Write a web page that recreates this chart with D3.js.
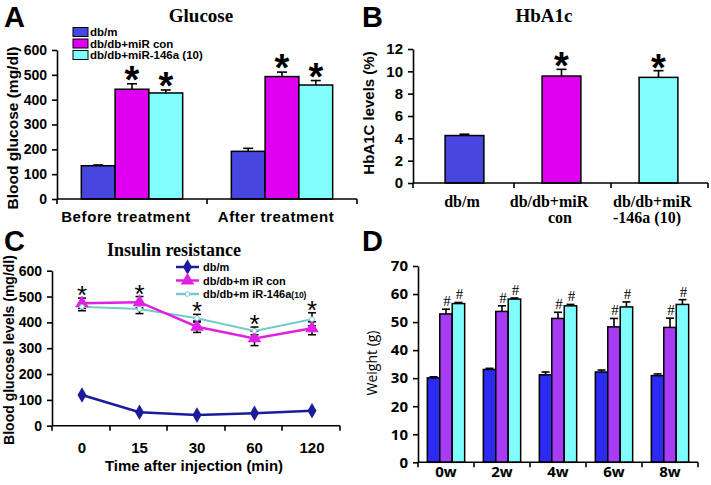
<!DOCTYPE html>
<html><head><meta charset="utf-8">
<script src="https://cdnjs.cloudflare.com/ajax/libs/d3/7.8.5/d3.min.js"></script>
<style>body{margin:0;background:#fff}svg{display:block}</style>
</head><body>
<svg id="c" width="711" height="485"></svg>
<script>
// ---------- DATA ----------
// Panel A: Glucose
const aCategories = ["Before treatment", "After treatment"];
const aSeries = ["db/m", "db/db+miR con", "db/db+miR-146a (10)"];
const aValues = [[134, 442, 427], [192, 493, 459]];
const aErrors = [[3, 22, 12], [12, 18, 18]];
const aStars = [[false, true, true], [false, true, true]];
const aTicks = [0, 100, 200, 300, 400, 500, 600];

// Panel B: HbA1c
const bCategories = [["db/m"], ["db/db+miR", "con"], ["db/db+miR", "-146a (10)"]];
const bValues = [4.25, 9.58, 9.46];
const bErrors = [0.12, 0.6, 0.6];
const bStars = [false, true, true];
const bTicks = [0, 2, 4, 6, 8, 10, 12];

// Panel C: Insulin resistance
const cTimes = ["0", "15", "30", "60", "120"];
const cSeries = ["db/m", "db/db+m iR con", "db/db+m iR-146a"];
const cDbm = [119, 52, 41, 48, 58];
const cCon = [474, 478, 383, 338, 377];
const cMiR = [460, 452, 416, 367, 412];
const cConErr = [20, 22, 22, 28, 25];
const cMiRErr = [15, 18, 15, 15, 25];
const cTicks = [0, 100, 200, 300, 400, 500, 600];

// Panel D: Weight
const dCategories = ["0w", "2w", "4w", "6w", "8w"];
const dDbm = [30.1, 33.1, 31.2, 32.2, 30.9];
const dCon = [52.9, 53.8, 51.3, 48.3, 48.1];
const dMiR = [56.6, 58.2, 55.8, 55.4, 56.3];
const dDbmErr = [0.4, 0.4, 1.0, 0.7, 0.6];
const dConErr = [1.7, 2.0, 2.2, 3.0, 3.3];
const dMiRErr = [0.4, 0.4, 0.5, 1.8, 1.7];
const dTicks = [0, 10, 20, 30, 40, 50, 60, 70];

// ---------- DRAW ----------
const svg = d3.select("#c");
const ARIAL = "Arial, 'Liberation Sans', sans-serif";
const SERIF = "'Times New Roman', 'Liberation Serif', serif";

function panelLetter(t, x, y) {
  svg.append("text").attr("x", x).attr("y", y).text(t)
    .attr("font-family", ARIAL).attr("font-weight", "bold").attr("font-size", 29);
}
function yAxisDraw(g, y, x0, ticks, font, size, weight) {
  const ax = g.append("g").attr("transform", `translate(${x0},0)`)
    .call(d3.axisLeft(y).tickValues(ticks).tickSize(5).tickPadding(5).tickSizeOuter(0));
  ax.select(".domain").attr("stroke", "#000").attr("stroke-width", 1.6);
  ax.selectAll(".tick line").attr("stroke", "#000").attr("stroke-width", 1.6);
  ax.selectAll("text").attr("font-family", font).attr("font-size", size)
    .attr("font-weight", weight).attr("fill", "#000");
  return ax;
}
function hLine(g, x1, x2, y) {
  g.append("line").attr("x1", x1).attr("x2", x2).attr("y1", y).attr("y2", y)
    .attr("stroke", "#000").attr("stroke-width", 1.6);
}
function vTick(g, x, y) {
  g.append("line").attr("x1", x).attr("x2", x).attr("y1", y).attr("y2", y + 5)
    .attr("stroke", "#000").attr("stroke-width", 1.6);
}
function errUp(g, cx, yTop, yCap, hw) {
  g.append("line").attr("x1", cx).attr("x2", cx).attr("y1", yTop).attr("y2", yCap)
    .attr("stroke", "#000").attr("stroke-width", 1.6);
  g.append("line").attr("x1", cx - hw).attr("x2", cx + hw).attr("y1", yCap).attr("y2", yCap)
    .attr("stroke", "#000").attr("stroke-width", 1.6);
}

// ===== Panel A =====
(function () {
  const g = svg.append("g");
  const colors = ["#4747df", "#de00ef", "#80fdfd"];
  const x = d3.scaleBand().domain(aCategories).range([57, 357]).paddingInner(0).paddingOuter(0);
  const xs = d3.scaleBand().domain(d3.range(3)).range([0, x.bandwidth()]).paddingOuter(0.72).paddingInner(0);
  const y = d3.scaleLinear().domain([0, 600]).range([199, 50]);
  aCategories.forEach((c, i) => {
    aValues[i].forEach((v, j) => {
      const bx = x(c) + xs(j);
      const cx = bx + xs.bandwidth() / 2;
      errUp(g, cx, y(v), y(v + aErrors[i][j]), 5);
      g.append("rect").attr("x", bx).attr("y", y(v)).attr("width", xs.bandwidth())
        .attr("height", y(0) - y(v)).attr("fill", colors[j]).attr("stroke", "#000").attr("stroke-width", 1.5);
      if (aStars[i][j]) {
        g.append("text").attr("x", cx).attr("y", y(v + aErrors[i][j]) + 9).text("*")
          .attr("text-anchor", "middle").attr("font-family", ARIAL).attr("font-weight", "bold").attr("font-size", 38);
      }
    });
  });
  yAxisDraw(g, y, 57, aTicks, ARIAL, 14, "bold");
  hLine(g, 57, 357, 199);
  [57, 207, 357].forEach(xx => vTick(g, xx, 199));
  aCategories.forEach(c => {
    g.append("text").attr("x", x(c) + x.bandwidth() / 2 - 6).attr("y", 222).text(c)
      .attr("text-anchor", "middle").attr("font-family", ARIAL).attr("font-weight", "bold")
      .attr("font-size", 15).attr("letter-spacing", 0.6);
  });
  g.append("text").attr("transform", "translate(18,128) rotate(-90)").text("Blood glucose (mg/dl)")
    .attr("text-anchor", "middle").attr("font-family", ARIAL).attr("font-weight", "bold").attr("font-size", 15.5);
  g.append("text").attr("x", 201).attr("y", 22).text("Glucose")
    .attr("text-anchor", "middle").attr("font-family", SERIF).attr("font-weight", "bold").attr("font-size", 19);
  aSeries.forEach((s, j) => {
    const yy = 32 + j * 11.5;
    g.append("rect").attr("x", 73).attr("y", yy - 4.5).attr("width", 15).attr("height", 9)
      .attr("fill", colors[j]).attr("stroke", "#000").attr("stroke-width", 1);
    g.append("text").attr("x", 90).attr("y", yy + 4.2).text(s)
      .attr("font-family", ARIAL).attr("font-weight", "bold").attr("font-size", 11.5);
  });
  panelLetter("A", 4, 27);
})();

// ===== Panel B =====
(function () {
  const g = svg.append("g");
  const colors = ["#4747df", "#de00ef", "#80fdfd"];
  const x = d3.scaleBand().domain(d3.range(3)).range([416, 707]).paddingInner(0.6).paddingOuter(0.3);
  const y = d3.scaleLinear().domain([0, 12]).range([183, 49]);
  bValues.forEach((v, i) => {
    const cx = x(i) + x.bandwidth() / 2;
    errUp(g, cx, y(v), y(v + bErrors[i]), 5);
    g.append("rect").attr("x", x(i)).attr("y", y(v)).attr("width", x.bandwidth())
      .attr("height", y(0) - y(v)).attr("fill", colors[i]).attr("stroke", "#000").attr("stroke-width", 1.5);
    if (bStars[i]) {
      g.append("text").attr("x", cx).attr("y", y(v + bErrors[i]) + 10).text("*")
        .attr("text-anchor", "middle").attr("font-family", ARIAL).attr("font-weight", "bold").attr("font-size", 38);
    }
  });
  yAxisDraw(g, y, 413, bTicks, ARIAL, 15, "bold");
  hLine(g, 413, 708, 183);
  [413, 514, 611, 708].forEach(xx => vTick(g, xx, 183));
  const labelPos = [[462, "middle"], [549, "middle"], [613, "start"]];
  bCategories.forEach((lines, i) => {
    lines.forEach((ln, k) => {
      let xx = labelPos[i][0];
      if (i === 1 && k === 1) xx = 560;
      g.append("text").attr("x", xx).attr("y", 207 + k * 16).text(ln)
        .attr("text-anchor", labelPos[i][1]).attr("font-family", SERIF)
        .attr("font-weight", "bold").attr("font-size", 16);
    });
  });
  g.append("text").attr("transform", "translate(374,113) rotate(-90)").text("HbA1C levels (%)")
    .attr("text-anchor", "middle").attr("font-family", ARIAL).attr("font-weight", "bold").attr("font-size", 15);
  g.append("text").attr("x", 544).attr("y", 22).text("HbA1c")
    .attr("text-anchor", "middle").attr("font-family", SERIF).attr("font-weight", "bold").attr("font-size", 19);
  panelLetter("B", 362, 27);
})();

// ===== Panel C =====
(function () {
  const g = svg.append("g");
  const x = d3.scalePoint().domain(cTimes).range([82, 312]);
  const y = d3.scaleLinear().domain([0, 600]).range([425.7, 270.7]);
  const lineColors = ["#1b1b9c", "#e021e3", "#74caca"];
  const line = d3.line().x((d, i) => x(cTimes[i])).y(d => y(d));
  function errBoth(vals, errs) {
    vals.forEach((v, i) => {
      const cx = x(cTimes[i]);
      g.append("line").attr("x1", cx).attr("x2", cx).attr("y1", y(v - errs[i])).attr("y2", y(v + errs[i]))
        .attr("stroke", "#000").attr("stroke-width", 1.5);
      [v - errs[i], v + errs[i]].forEach(e => {
        g.append("line").attr("x1", cx - 4).attr("x2", cx + 4).attr("y1", y(e)).attr("y2", y(e))
          .attr("stroke", "#000").attr("stroke-width", 1.5);
      });
    });
  }
  errBoth(cCon, cConErr);
  errBoth(cMiR, cMiRErr);
  g.append("path").datum(cMiR).attr("d", line).attr("fill", "none").attr("stroke", lineColors[2]).attr("stroke-width", 2);
  g.append("path").datum(cCon).attr("d", line).attr("fill", "none").attr("stroke", lineColors[1]).attr("stroke-width", 2.5);
  g.append("path").datum(cDbm).attr("d", line).attr("fill", "none").attr("stroke", lineColors[0]).attr("stroke-width", 2.5);
  const diamond = d3.symbol().type(d3.symbolDiamond).size(70);
  const tri = d3.symbol().type(d3.symbolTriangle).size(80);
  const circ = d3.symbol().type(d3.symbolCircle).size(18);
  cDbm.forEach((v, i) => g.append("path").attr("d", diamond)
    .attr("transform", `translate(${x(cTimes[i])},${y(v)})`).attr("fill", lineColors[0]));
  cCon.forEach((v, i) => g.append("path").attr("d", tri)
    .attr("transform", `translate(${x(cTimes[i])},${y(v)})`).attr("fill", lineColors[1]));
  cMiR.forEach((v, i) => g.append("path").attr("d", circ)
    .attr("transform", `translate(${x(cTimes[i])},${y(v)})`).attr("fill", "#fff").attr("stroke", lineColors[2]).attr("stroke-width", 1));
  cTimes.forEach((t, i) => {
    const top = Math.max(cCon[i] + cConErr[i], cMiR[i] + cMiRErr[i]);
    g.append("text").attr("x", x(t)).attr("y", y(top) + 6).text("*")
      .attr("text-anchor", "middle").attr("font-family", ARIAL).attr("font-size", 26);
  });
  yAxisDraw(g, y, 52, cTicks, ARIAL, 14, "bold");
  hLine(g, 52, 340, 425.7);
  [52, 110, 167, 225, 282, 340].forEach(xx => vTick(g, xx, 425.7));
  cTimes.forEach(t => {
    g.append("text").attr("x", x(t)).attr("y", 453).text(t)
      .attr("text-anchor", "middle").attr("font-family", ARIAL).attr("font-weight", "bold").attr("font-size", 15);
  });
  g.append("text").attr("x", 194).attr("y", 471).text("Time after injection (min)")
    .attr("text-anchor", "middle").attr("font-family", ARIAL).attr("font-weight", "bold").attr("font-size", 15);
  g.append("text").attr("transform", "translate(14,350) rotate(-90)").text("Blood glucose levels (mg/dl)")
    .attr("text-anchor", "middle").attr("font-family", ARIAL).attr("font-weight", "bold").attr("font-size", 14);
  g.append("text").attr("x", 174).attr("y", 256).text("Insulin resistance")
    .attr("text-anchor", "middle").attr("font-family", SERIF).attr("font-weight", "bold").attr("font-size", 18);
  const syms = [diamond, tri, circ];
  cSeries.forEach((s, j) => {
    const yy = 267 + j * 13.5;
    g.append("line").attr("x1", 176).attr("x2", 199).attr("y1", yy).attr("y2", yy)
      .attr("stroke", lineColors[j]).attr("stroke-width", 2.5);
    const p = g.append("path").attr("d", syms[j]).attr("transform", `translate(187.5,${yy})`);
    if (j === 2) p.attr("fill", "#fff").attr("stroke", lineColors[2]);
    else p.attr("fill", lineColors[j]);
    const t = g.append("text").attr("x", 203).attr("y", yy + 4)
      .attr("font-family", ARIAL).attr("font-weight", "bold").attr("font-size", 11).text(s);
    if (j === 2) t.append("tspan").attr("font-size", 8.5).text("(10)");
  });
  panelLetter("C", 4, 251);
})();

// ===== Panel D =====
(function () {
  const g = svg.append("g");
  const colors = ["#2a2af0", "#a83cf5", "#80fdfd"];
  const x = d3.scaleBand().domain(dCategories).range([418, 698]);
  const xs = d3.scaleBand().domain(d3.range(3)).range([0, x.bandwidth()]).paddingOuter(0.75).paddingInner(0);
  const y = d3.scaleLinear().domain([0, 70]).range([462.3, 266]);
  const series = [dDbm, dCon, dMiR];
  const errs = [dDbmErr, dConErr, dMiRErr];
  dCategories.forEach((c, i) => {
    series.forEach((arr, j) => {
      const v = arr[i], e = errs[j][i];
      const bx = x(c) + xs(j);
      const cx = bx + xs.bandwidth() / 2;
      errUp(g, cx, y(v), y(v + e), 4);
      g.append("rect").attr("x", bx).attr("y", y(v)).attr("width", xs.bandwidth())
        .attr("height", y(0) - y(v)).attr("fill", colors[j]).attr("stroke", "#000").attr("stroke-width", 1.5);
      if (j > 0) {
        g.append("text").attr("x", cx + 1).attr("y", y(v + e) - 3).text("#")
          .attr("text-anchor", "middle").attr("font-family", SERIF).attr("font-size", 15);
      }
    });
  });
  yAxisDraw(g, y, 418, dTicks, "'Open Sans', 'DejaVu Sans', sans-serif", 15, "bold");
  hLine(g, 418, 698, 462.3);
  x.domain().forEach(c => vTick(g, x(c), 462.3));
  vTick(g, 698, 462.3);
  dCategories.forEach(c => {
    g.append("text").attr("x", x(c) + x.bandwidth() / 2).attr("y", 477).text(c)
      .attr("text-anchor", "middle").attr("font-family", "'Open Sans', 'DejaVu Sans', sans-serif")
      .attr("font-weight", "bold").attr("font-size", 15);
  });
  g.append("text").attr("transform", "translate(377,363) rotate(-90)").text("Weight (g)")
    .attr("text-anchor", "middle").attr("font-family", "'Open Sans', sans-serif").attr("font-size", 14);
  panelLetter("D", 362, 251);
})();
</script>
</body></html>
